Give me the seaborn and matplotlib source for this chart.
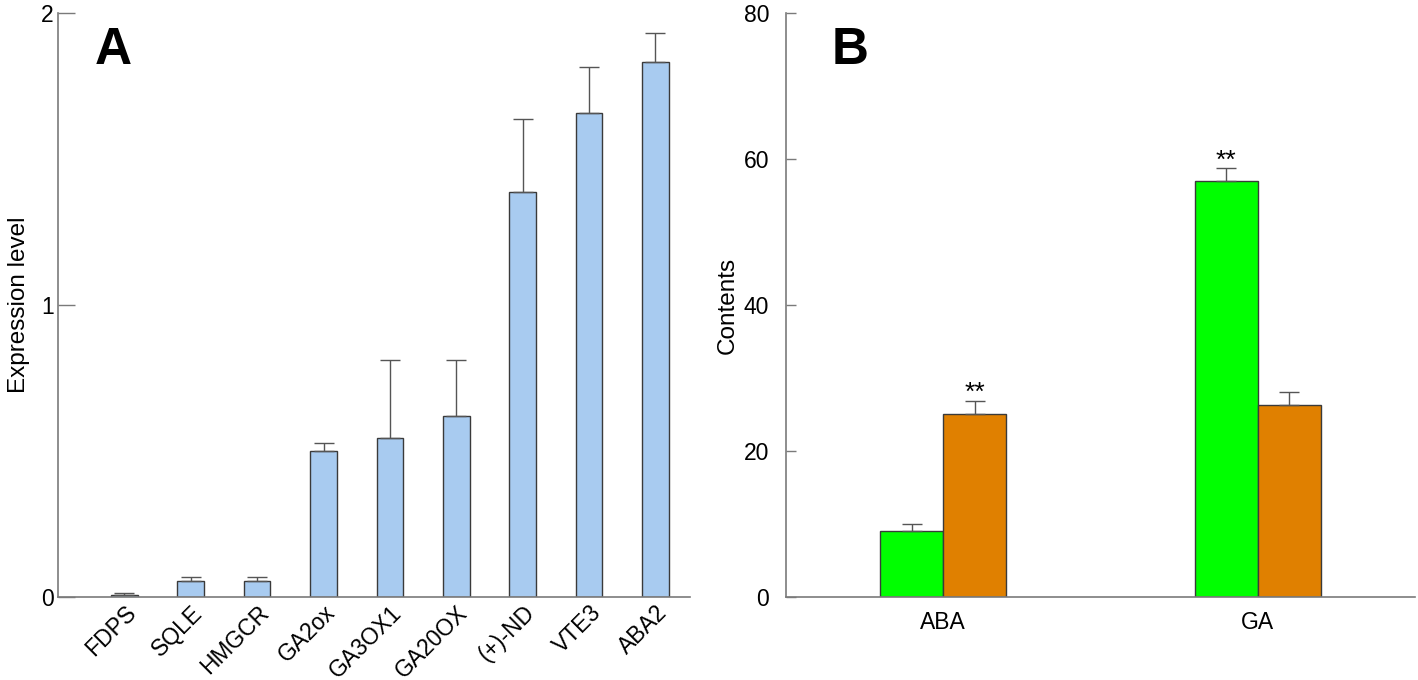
import pandas as pd
import matplotlib.pyplot as plt
import seaborn as sns

# panel A - gene expression
genes = ["FDPS", "SQLE", "HMGCR", "GA2ox", "GA3OX1", "GA20OX", "(+)-ND", "VTE3", "ABA2"]
expr_mean = [0.008, 0.056, 0.055, 0.50, 0.545, 0.62, 1.387, 1.657, 1.832]
expr_err = [0.004, 0.014, 0.013, 0.027, 0.265, 0.19, 0.25, 0.158, 0.098]

# panel B - hormone contents
hormones = ["ABA", "GA"]
groups = ["Group 1", "Group 2"]
cont_g1 = [9.0, 57.0]
cont_g2 = [25.1, 26.3]
err_g1 = [1.0, 1.7]
err_g2 = [1.8, 1.8]
stars_g1 = ["", "**"]
stars_g2 = ["**", ""]

sns.set_style("white")
plt.rcParams["font.family"] = ["Liberation Sans", "DejaVu Sans"]
plt.rcParams["text.color"] = "black"
plt.rcParams["axes.labelcolor"] = "black"
plt.rcParams["xtick.color"] = "black"
plt.rcParams["ytick.color"] = "black"

edge = "#3a3a3a"
spine_c = "#7a7a7a"
fs = 16.5

fig = plt.figure(figsize=(14.18, 6.8), dpi=100)
axA = fig.add_axes([58 / 1418, 83 / 680, 632 / 1418, 584 / 680])
axB = fig.add_axes([786 / 1418, 83 / 680, 629 / 1418, 584 / 680])

# ---- A ----
dfA = pd.DataFrame({"gene": genes, "value": expr_mean})
sns.barplot(data=dfA, x="gene", y="value", color="#A8CBF0", width=0.4,
            edgecolor=edge, linewidth=1, saturation=1, errorbar=None, ax=axA)
for p, e in zip(axA.patches, expr_err):
    xc = p.get_x() + p.get_width() / 2
    axA.errorbar(xc, p.get_height(), yerr=[[0], [e]], fmt="none",
                 ecolor="#555555", elinewidth=1, capsize=7, capthick=1)
axA.set_xlim(-1, 8.52)
axA.set_ylim(0, 2)
axA.set_yticks([0, 1, 2])
axA.set_xlabel("")
axA.set_ylabel("Expression level", fontsize=17.5, labelpad=8)
axA.tick_params(axis="y", direction="in", length=12, width=1, color=spine_c,
                labelsize=fs, labelcolor="black", pad=3, left=True)
axA.tick_params(axis="x", length=0, labelsize=fs, labelcolor="black", pad=3)
plt.setp(axA.get_xticklabels(), rotation=45, ha="right", rotation_mode="anchor")
axA.text(37 / 632, 1 - 13 / 584, "A", transform=axA.transAxes, fontsize=37,
         fontweight="bold", va="top", ha="left")

# ---- B ----
dfB = pd.DataFrame({
    "hormone": hormones * 2,
    "group": [groups[0]] * 2 + [groups[1]] * 2,
    "value": cont_g1 + cont_g2,
})
sns.barplot(data=dfB, x="hormone", y="value", hue="group",
            palette=["#00FF00", "#E08000"], width=0.4, edgecolor=edge,
            linewidth=1, saturation=1, errorbar=None, legend=False, ax=axB)
bars = sorted(axB.patches, key=lambda p: p.get_x())
errs = [err_g1[0], err_g2[0], err_g1[1], err_g2[1]]
stars = [stars_g1[0], stars_g2[0], stars_g1[1], stars_g2[1]]
for p, e, s in zip(bars, errs, stars):
    xc = p.get_x() + p.get_width() / 2
    top = p.get_height()
    axB.errorbar(xc, top, yerr=[[0], [e]], fmt="none", ecolor="#555555",
                 elinewidth=1, capsize=7, capthick=1)
    if s:
        axB.text(xc, top + e - 0.6, s, ha="center", va="bottom", fontsize=19)
axB.set_xlim(-0.5, 1.5)
axB.set_ylim(0, 80)
axB.set_yticks([0, 20, 40, 60, 80])
axB.set_xlabel("")
axB.set_ylabel("Contents", fontsize=17.5, labelpad=4)
axB.tick_params(axis="y", direction="in", length=7, width=1, color=spine_c,
                labelsize=fs, labelcolor="black", pad=12, left=True)
axB.tick_params(axis="x", length=0, labelsize=fs, labelcolor="black", pad=10)
axB.text(46 / 629, 1 - 13 / 584, "B", transform=axB.transAxes, fontsize=37,
         fontweight="bold", va="top", ha="left")

for ax in (axA, axB):
    sns.despine(ax=ax)
    for sp in ("left", "bottom"):
        ax.spines[sp].set_color(spine_c)
        ax.spines[sp].set_linewidth(1.2)

fig.savefig("out.png", dpi=100)
